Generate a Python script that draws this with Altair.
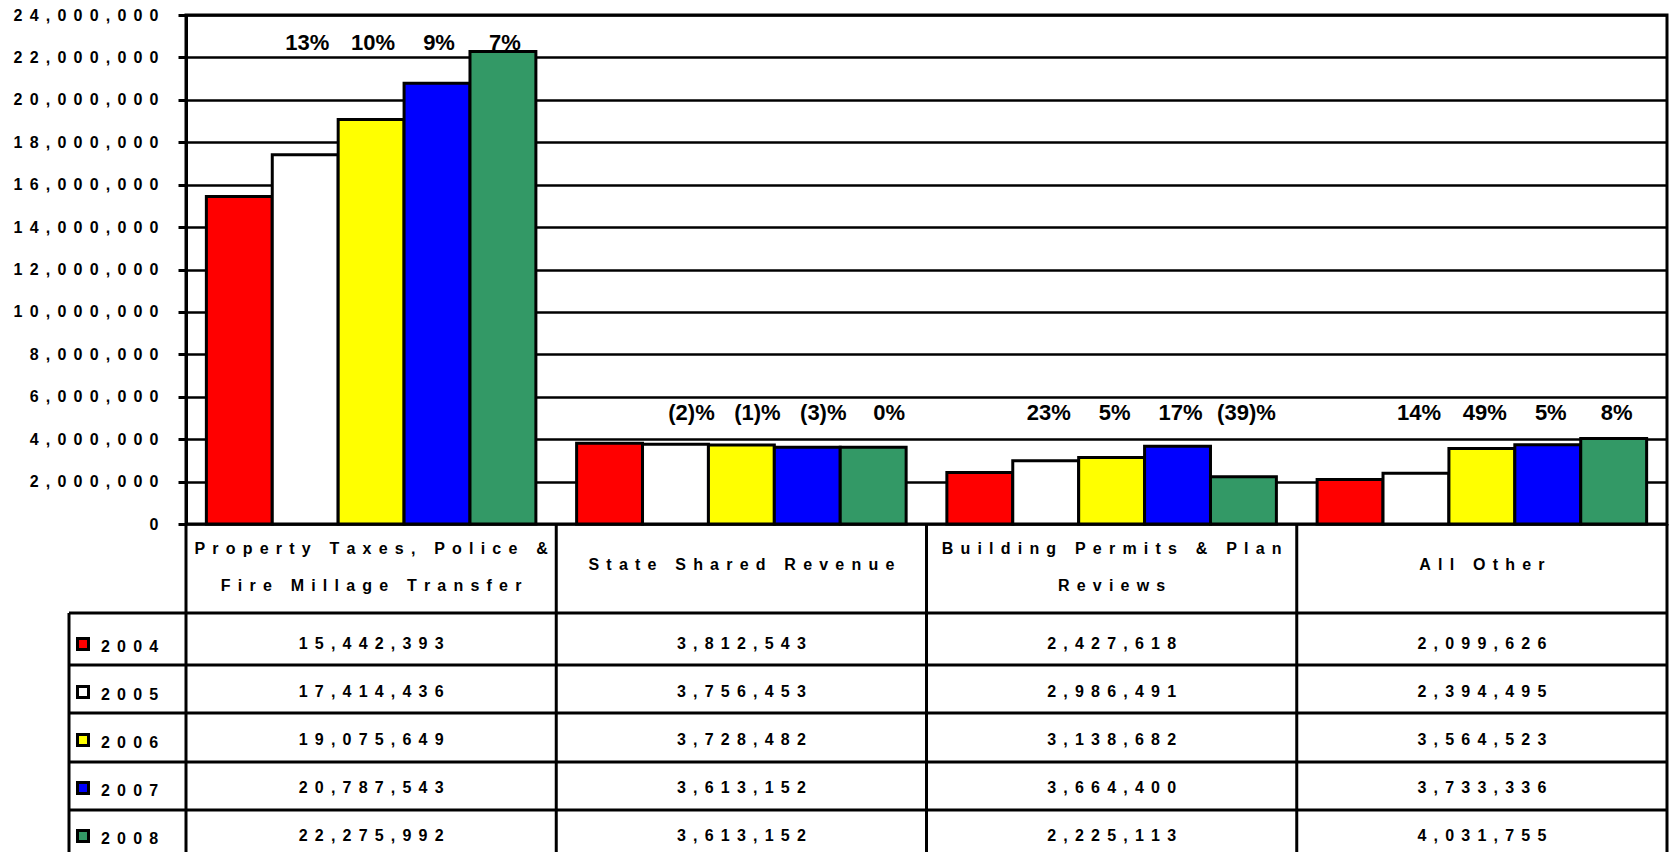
import altair as alt
import pandas as pd

# ---------------- data ----------------
categories = [
    "Property Taxes, Police & Fire Millage Transfer",
    "State Shared Revenue",
    "Building Permits & Plan Reviews",
    "All Other",
]
header_labels = [
    "Property Taxes, Police &\nFire Millage Transfer",
    "State Shared Revenue",
    "Building Permits & Plan\nReviews",
    "All Other",
]
years = ["2004", "2005", "2006", "2007", "2008"]
colors = ["#FF0000", "#FFFFFF", "#FFFF00", "#0000FF", "#339966"]

v2004 = [15442393, 3812543, 2427618, 2099626]
v2005 = [17414436, 3756453, 2986491, 2394495]
v2006 = [19075649, 3728482, 3138682, 3564523]
v2007 = [20787543, 3613152, 3664400, 3733336]
v2008 = [22275992, 3613152, 2225113, 4031755]

pct2005 = ["13%", "(2)%", "23%", "14%"]
pct2006 = ["10%", "(1)%", "5%", "49%"]
pct2007 = ["9%", "(3)%", "17%", "5%"]
pct2008 = ["7%", "0%", "(39)%", "8%"]

y_ticks = [0, 2000000, 4000000, 6000000, 8000000, 10000000, 12000000,
           14000000, 16000000, 18000000, 20000000, 22000000, 24000000]

# ---------------- tables built from the arrays ----------------
SP = "\u2009\u2005"   # letter spacing imitation (thin + four-per-em space)


def spaced(s):
    return "\n".join(SP.join(line) for line in s.split("\n"))


series = [v2004, v2005, v2006, v2007, v2008]
pcts = [None, pct2005, pct2006, pct2007, pct2008]
rows = []
for yi, yr in enumerate(years):
    for ci, cat in enumerate(categories):
        val = series[yi][ci]
        rows.append({
            "category": cat,
            "year": yr,
            "value": val,
            "value_text": spaced(f"{val:,}"),
            "pct": pcts[yi][ci] if pcts[yi] else "",
            "group": ci,
        })
df = pd.DataFrame(rows)
pct_df = df[df["year"] != years[0]]
cat_df = pd.DataFrame({"category": categories,
                       "header": [spaced(h) for h in header_labels],
                       "lines": [h.count("\n") + 1 for h in header_labels]})
year_df = pd.DataFrame({"year": years, "year_text": [spaced(y) for y in years]})

# ---------------- layout (pixels, plot coordinates) ----------------
W, H = 1481, 509
PAD_LEFT, PAD_RIGHT, PAD_TOP = 178, 2, 7
TOTAL_H = 844
FONT = "Liberation Sans"
legend_left = -117
row_lines = [598, 650, 698, 747, 795, 843]
table_bottom = TOTAL_H - PAD_TOP
rule_rows = []
for yl in row_lines:
    rule_rows.append({"x1": legend_left, "x2": W, "y1": yl, "y2": yl})
for i in range(len(categories) + 1):
    xv = W * i / len(categories)
    rule_rows.append({"x1": xv, "x2": xv, "y1": H, "y2": table_bottom})
rule_rows.append({"x1": legend_left, "x2": legend_left, "y1": row_lines[0], "y2": table_bottom})
rule_df = pd.DataFrame(rule_rows)

# ---------------- encodings ----------------
xscale = alt.Scale(domain=categories, paddingInner=0.11, paddingOuter=0.055)
X = alt.X("category:N", scale=xscale, axis=None, sort=categories)
XO = alt.XOffset("year:N", scale=alt.Scale(domain=years, paddingInner=0, paddingOuter=0),
                 sort=years)
color = alt.Color("year:N", scale=alt.Scale(domain=years, range=colors), legend=None)
rowscale = alt.Scale(type="point", domain=years, range=[629, 821], padding=0)

yaxis = alt.Axis(
    values=y_ticks, format=",d", title=None,
    labelExpr="join(split(datum.label, ''), '" + SP + "')",
    labelFont=FONT, labelFontSize=16, labelFontWeight="bold", labelColor="black",
    labelPadding=20, tickSize=8, tickColor="black", tickWidth=3,
    domainColor="black", domainWidth=3,
    grid=True, gridColor="black", gridWidth=2.5, gridOpacity=1,
)

bars = alt.Chart(df).mark_bar(stroke="black", strokeWidth=3).encode(
    x=X, xOffset=XO,
    y=alt.Y("value:Q", scale=alt.Scale(domain=[0, 24000000], nice=False), axis=yaxis),
    color=color,
)

pct_style = dict(font=FONT, fontSize=22, fontWeight="bold", color="black", baseline="middle")
pct_first = alt.Chart(pct_df[pct_df["group"] == 0]).mark_text(**pct_style, dx=2).encode(
    x=X, xOffset=XO, y=alt.value(28), text="pct:N")
pct_second = alt.Chart(pct_df[pct_df["group"] == 1]).mark_text(**pct_style, dx=16).encode(
    x=X, xOffset=XO, y=alt.value(398), text="pct:N")
pct_rest = alt.Chart(pct_df[pct_df["group"] >= 2]).mark_text(**pct_style, dx=3).encode(
    x=X, xOffset=XO, y=alt.value(398), text="pct:N")

head_style = dict(font=FONT, fontSize=16, fontWeight="bold", color="black",
                  baseline="middle", lineBreak="\n", lineHeight=37)
header_one = alt.Chart(cat_df[cat_df["lines"] == 1]).mark_text(**head_style).encode(
    x=X, y=alt.value(550), text="header:N")
header_two = alt.Chart(cat_df[cat_df["lines"] == 2]).mark_text(**head_style).encode(
    x=X, y=alt.value(534), text="header:N")

table = alt.Chart(df).mark_text(
    font=FONT, fontSize=16, fontWeight="bold", color="black", baseline="middle"
).encode(x=X, y=alt.Y("year:N", scale=rowscale, axis=None), text="value_text:N")

legend_sw = alt.Chart(year_df).mark_square(
    size=121, stroke="black", strokeWidth=3, opacity=1
).encode(x=alt.value(-103), y=alt.Y("year:N", scale=rowscale, axis=None), color=color)

legend_tx = alt.Chart(year_df).mark_text(
    font=FONT, fontSize=16, fontWeight="bold", color="black", baseline="middle",
    align="left", dy=3
).encode(x=alt.value(-85), y=alt.Y("year:N", scale=rowscale, axis=None), text="year_text:N")

rules = alt.Chart(rule_df).mark_rule(color="black", strokeWidth=3).encode(
    x=alt.X("x1:Q", scale=None), x2="x2:Q",
    y=alt.Y("y1:Q", scale=None), y2="y2:Q",
)

chart = alt.layer(
    bars, pct_first, pct_second, pct_rest, header_one, header_two,
    table, legend_sw, legend_tx, rules
).resolve_scale(y="independent").properties(
    width=W, height=H,
    autosize=alt.AutoSizeParams(type="none"),
    padding={"left": PAD_LEFT, "top": PAD_TOP, "right": PAD_RIGHT,
             "bottom": TOTAL_H - PAD_TOP - H},
    background="white",
).configure_view(stroke="black", strokeWidth=3)

chart.save("out.html", embed_options={"renderer": "svg", "actions": False})
